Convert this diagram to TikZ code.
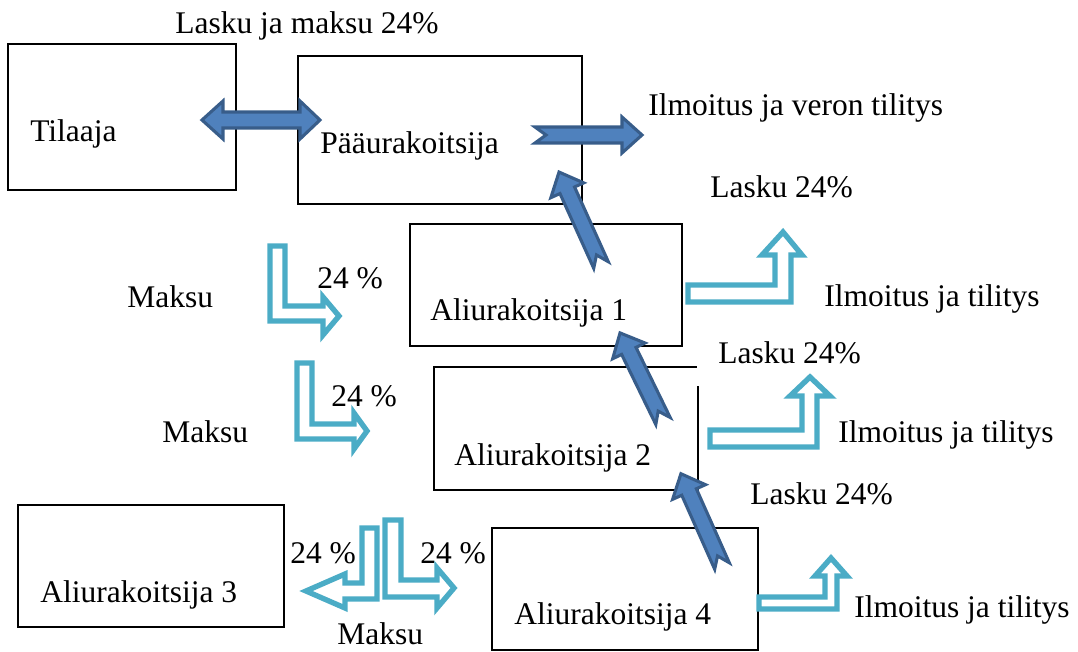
\documentclass[tikz,border=0pt]{standalone}
\usepackage{fontspec}
\setmainfont{Liberation Serif}
\usetikzlibrary{positioning}
\definecolor{fullblue}{HTML}{4F81BD}
\definecolor{fulledge}{HTML}{385D8A}
\definecolor{hollowblue}{HTML}{4BACC6}

\begin{document}
\begin{tikzpicture}[
    x=0.025cm, y=0.025cm,
    box/.style ={
        draw=black,
        line width=0.9pt,
        inner sep=0pt
    },
    txt/.style ={
        anchor=base west,
        inner sep=0pt,
        font=\fontsize{22.4}{27}\selectfont
    },
    fullarrow/.style ={
        fill=fullblue,
        draw=fulledge,
        line width=2.2pt,
        line join=miter
    },
    hollowarrow/.style ={
        fill=white,
        draw=hollowblue,
        line width=3.8pt,
        line join=miter
    },
    pics/notched/.style ={
        code={
            \draw[fullarrow] (0,8) -- (#1-20,8) -- (#1-20,18) -- (#1,0)
                -- (#1-20,-18) -- (#1-20,-8) -- (0,-8) -- (11,0) -- cycle;
        }
    }
    ]
    \useasboundingbox (0,0) rectangle (1078,-651);

    % boxes
    \foreach \name/\cx/\cy/\w/\h in {tilaaja/122/117/5.7/3.65, paa/440/130/7.1/3.7,
                                   ali1/546/285/6.8/3.05, ali2/566/428.5/6.6/3.075,
                                   ali3/151/566/6.65/3.05, ali4/625/589/6.65/3.05}
        \node[box, minimum width=\w cm, minimum height=\h cm] (\name) at (\cx,-\cy) {};

    % texts
    \foreach \name/\tx/\ty/\label in {tilaajaT/30/141/Tilaaja, paaT/320/153/Pääurakoitsija,
                                    ali1T/430/320/Aliurakoitsija 1, ali2T/454/465/Aliurakoitsija 2,
                                    ali3T/40/602/Aliurakoitsija 3, ali4T/514/624/Aliurakoitsija 4,
                                    top/175/33/Lasku ja maksu 24\%, veron/648/115/Ilmoitus ja veron tilitys,
                                    lasku1/710/197/Lasku 24\%, ilm1/824/306/Ilmoitus ja tilitys,
                                    ilm2/838/442/Ilmoitus ja tilitys, lasku3/750/504/Lasku 24\%,
                                    ilm3/854/617/Ilmoitus ja tilitys,
                                    maksu1/127/307/Maksu, pros1/317/288/24 \%,
                                    maksu2/162/442/Maksu, pros2/331/406/24 \%,
                                    pros3/290/563/24 \%, pros4/420/563/24 \%, maksu3/337/644/Maksu}
        \node[txt] (\name) at (\tx,-\ty) {\label};
    \node[txt, fill=white, inner xsep=0.525cm, inner ysep=0.575cm] (lasku2) at (697,-363) {Lasku 24\%};

    % dark arrows
    \draw[fullarrow] (202,-120) -- (223,-101) -- (223,-112) -- (300,-112) -- (300,-101) -- (320,-120)
        -- (300,-139) -- (300,-128) -- (223,-128) -- (223,-139) -- cycle;
    \foreach \tx/\ty/\ang/\len in {535/135/0/107, 601/265/114.3/102, 663/421/116/98, 722/566/114/101}
        \pic[rotate=\ang] at (\tx,-\ty) {notched=\len};

    % light arrows
    \draw[hollowarrow] (270,-246) -- (285,-246) -- (285,-306) -- (323,-306) -- (323,-297) -- (339,-316)
        -- (323,-335) -- (323,-321) -- (270,-321) -- cycle;
    \draw[hollowarrow] (297,-363) -- (312,-363) -- (312,-424) -- (354,-424) -- (354,-413) -- (367,-431)
        -- (354,-449) -- (354,-439) -- (297,-439) -- cycle;
    \draw[hollowarrow] (362,-528) -- (377,-528) -- (377,-599) -- (345,-599) -- (345,-608) -- (306,-591)
        -- (345,-574) -- (345,-583) -- (362,-583) -- cycle;
    \draw[hollowarrow] (385,-520) -- (401,-520) -- (401,-580) -- (437,-580) -- (437,-568) -- (454,-588)
        -- (437,-608) -- (437,-597) -- (385,-597) -- cycle;
    \draw[hollowarrow] (688,-285) -- (775,-285) -- (775,-255) -- (762,-255) -- (783,-232) -- (802,-255)
        -- (791,-255) -- (791,-302) -- (688,-302) -- cycle;
    \draw[hollowarrow] (710,-430) -- (802,-430) -- (802,-396) -- (790,-396) -- (810,-377) -- (830,-396)
        -- (817,-396) -- (817,-447) -- (710,-447) -- cycle;
    \draw[hollowarrow] (759,-597) -- (825,-597) -- (825,-576) -- (815,-576) -- (831,-558) -- (847,-576)
        -- (837,-576) -- (837,-609) -- (759,-609) -- cycle;
\end{tikzpicture}
\end{document}
